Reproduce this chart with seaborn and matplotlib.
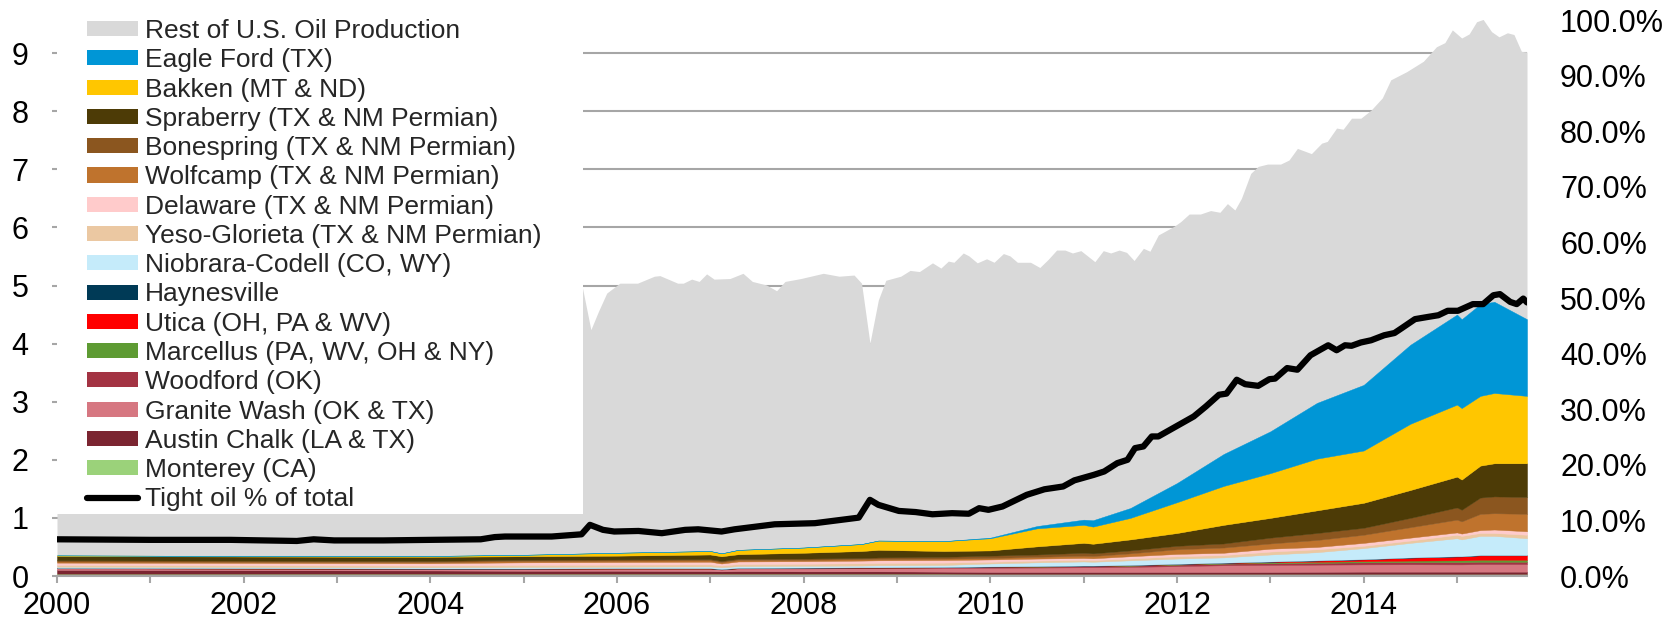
import numpy as np
import matplotlib
matplotlib.use("Agg")
import matplotlib.pyplot as plt
from matplotlib.patches import Patch, Rectangle
from matplotlib.lines import Line2D
from matplotlib.ticker import FuncFormatter, MultipleLocator
import seaborn as sns

# ---------------- data (million barrels per day) ----------------
total_dates = [2000.0, 2002.0, 2004.0, 2005.0, 2005.62, 2005.72, 2005.80, 2005.89, 2006.03, 2006.22,
               2006.40, 2006.46, 2006.65, 2006.71, 2006.80, 2006.88, 2006.96, 2007.04, 2007.21, 2007.35,
               2007.45, 2007.60, 2007.71, 2007.80, 2007.97, 2008.21, 2008.38, 2008.54, 2008.62, 2008.71,
               2008.80, 2008.88, 2009.04, 2009.14, 2009.24, 2009.38, 2009.47, 2009.55, 2009.61, 2009.71,
               2009.77, 2009.86, 2009.96, 2010.04, 2010.14, 2010.21, 2010.29, 2010.43, 2010.53, 2010.62,
               2010.71, 2010.80, 2010.88, 2010.97, 2011.12, 2011.21, 2011.29, 2011.38, 2011.46, 2011.54,
               2011.64, 2011.71, 2011.80, 2011.97, 2012.04, 2012.13, 2012.25, 2012.36, 2012.46, 2012.54,
               2012.62, 2012.69, 2012.79, 2012.87, 2012.97, 2013.11, 2013.20, 2013.29, 2013.44, 2013.55,
               2013.61, 2013.71, 2013.78, 2013.87, 2013.97, 2014.08, 2014.20, 2014.29, 2014.46, 2014.64,
               2014.78, 2014.87, 2014.95, 2015.05, 2015.13, 2015.21, 2015.28, 2015.37, 2015.45, 2015.54,
               2015.61, 2015.69, 2015.75]
total_production = [5.45, 5.40, 5.25, 5.15, 5.04, 4.24, 4.55, 4.87, 5.04, 5.04,
                    5.16, 5.17, 5.04, 5.04, 5.11, 5.07, 5.20, 5.11, 5.12, 5.21,
                    5.07, 5.01, 4.91, 5.07, 5.12, 5.21, 5.16, 5.18, 5.04, 4.01,
                    4.75, 5.09, 5.16, 5.26, 5.24, 5.39, 5.30, 5.42, 5.40, 5.56,
                    5.51, 5.39, 5.46, 5.40, 5.55, 5.51, 5.40, 5.40, 5.31, 5.45,
                    5.61, 5.61, 5.56, 5.60, 5.41, 5.60, 5.56, 5.61, 5.57, 5.43,
                    5.64, 5.59, 5.87, 6.02, 6.10, 6.23, 6.23, 6.29, 6.26, 6.41,
                    6.30, 6.50, 6.93, 7.05, 7.09, 7.09, 7.16, 7.36, 7.27, 7.45,
                    7.48, 7.71, 7.69, 7.88, 7.88, 8.02, 8.23, 8.54, 8.68, 8.86,
                    9.11, 9.18, 9.40, 9.26, 9.33, 9.54, 9.58, 9.37, 9.28, 9.35,
                    9.32, 9.03, 9.02]

pct_dates = [2000.0, 2001.0, 2001.86, 2002.57, 2002.75, 2002.97, 2003.5, 2004.0, 2004.54, 2004.69,
             2004.8, 2005.3, 2005.62, 2005.71, 2005.85, 2005.97, 2006.23, 2006.48, 2006.73, 2006.87,
             2007.12, 2007.26, 2007.69, 2008.12, 2008.59, 2008.71, 2008.80, 2009.02, 2009.20, 2009.38,
             2009.59, 2009.77, 2009.88, 2009.98, 2010.13, 2010.39, 2010.58, 2010.78, 2010.90, 2011.11,
             2011.22, 2011.36, 2011.47, 2011.55, 2011.64, 2011.73, 2011.80, 2011.99, 2012.18, 2012.31,
             2012.45, 2012.53, 2012.64, 2012.73, 2012.87, 2012.99, 2013.05, 2013.18, 2013.29, 2013.43,
             2013.62, 2013.71, 2013.80, 2013.87, 2013.97, 2014.08, 2014.22, 2014.33, 2014.41, 2014.55,
             2014.69, 2014.80, 2014.90, 2015.01, 2015.17, 2015.28, 2015.39, 2015.46, 2015.57, 2015.64,
             2015.71, 2015.75]
tight_oil_share = [0.066, 0.065, 0.065, 0.063, 0.066, 0.064, 0.064, 0.065, 0.066, 0.070,
                   0.071, 0.071, 0.075, 0.092, 0.083, 0.080, 0.081, 0.077, 0.083, 0.084,
                   0.080, 0.084, 0.093, 0.095, 0.105, 0.137, 0.128, 0.117, 0.115, 0.111,
                   0.113, 0.112, 0.122, 0.119, 0.125, 0.146, 0.156, 0.161, 0.172, 0.182,
                   0.188, 0.203, 0.209, 0.230, 0.233, 0.251, 0.251, 0.269, 0.287, 0.305,
                   0.326, 0.328, 0.353, 0.345, 0.342, 0.354, 0.355, 0.374, 0.371, 0.397,
                   0.415, 0.406, 0.415, 0.414, 0.420, 0.424, 0.433, 0.437, 0.446, 0.462,
                   0.466, 0.469, 0.477, 0.477, 0.489, 0.489, 0.505, 0.507, 0.493, 0.489,
                   0.499, 0.492]

tight_dates = [2000.0, 2002.0, 2004.0, 2005.0, 2006.0, 2007.0, 2007.12, 2007.3, 2008.0, 2008.62,
               2008.8, 2009.5, 2010.0, 2010.5, 2011.0, 2011.1, 2011.5, 2012.0, 2012.5, 2013.0,
               2013.5, 2014.0, 2014.5, 2015.0, 2015.05, 2015.25, 2015.4, 2015.75]
monterey = [0.04, 0.04, 0.04, 0.04, 0.04, 0.04, 0.04, 0.04, 0.04, 0.04,
            0.04, 0.04, 0.035, 0.035, 0.035, 0.035, 0.035, 0.035, 0.035, 0.035,
            0.035, 0.035, 0.035, 0.035, 0.035, 0.035, 0.035, 0.035]
austin_chalk = [0.065, 0.06, 0.055, 0.05, 0.05, 0.045, 0.04, 0.045, 0.04, 0.04,
                0.04, 0.035, 0.035, 0.035, 0.035, 0.035, 0.035, 0.035, 0.035, 0.035,
                0.037, 0.04, 0.04, 0.04, 0.04, 0.04, 0.04, 0.04]
granite_wash = [0.025, 0.025, 0.025, 0.03, 0.035, 0.04, 0.03, 0.045, 0.05, 0.055,
                0.055, 0.065, 0.072, 0.075, 0.08, 0.08, 0.087, 0.10, 0.115, 0.12,
                0.123, 0.125, 0.127, 0.125, 0.125, 0.13, 0.13, 0.13]
woodford = [0.005, 0.005, 0.005, 0.005, 0.005, 0.005, 0.005, 0.005, 0.01, 0.01,
            0.01, 0.01, 0.015, 0.015, 0.02, 0.02, 0.02, 0.025, 0.028, 0.03,
            0.032, 0.035, 0.038, 0.04, 0.04, 0.04, 0.04, 0.04]
marcellus = [0, 0, 0, 0, 0, 0, 0, 0, 0, 0,
             0, 0, 0.003, 0.005, 0.005, 0.005, 0.008, 0.01, 0.012, 0.015,
             0.018, 0.02, 0.025, 0.03, 0.03, 0.035, 0.035, 0.035]
utica = [0, 0, 0, 0, 0, 0, 0, 0, 0, 0,
         0, 0, 0, 0, 0, 0, 0, 0, 0, 0.01,
         0.02, 0.03, 0.05, 0.065, 0.065, 0.075, 0.075, 0.075]
haynesville = [0.005, 0.005, 0.005, 0.005, 0.005, 0.005, 0.005, 0.005, 0.005, 0.005,
               0.005, 0.005, 0.005, 0.005, 0.005, 0.005, 0.005, 0.005, 0.005, 0.005,
               0.005, 0.005, 0.005, 0.005, 0.005, 0.005, 0.005, 0.005]
niobrara = [0.02, 0.02, 0.02, 0.025, 0.025, 0.03, 0.03, 0.03, 0.03, 0.03,
            0.035, 0.035, 0.05, 0.065, 0.07, 0.065, 0.08, 0.09, 0.09, 0.12,
            0.14, 0.19, 0.25, 0.31, 0.29, 0.33, 0.33, 0.29]
yeso_glorieta = [0.03, 0.03, 0.03, 0.035, 0.035, 0.035, 0.03, 0.035, 0.035, 0.04,
                 0.04, 0.04, 0.03, 0.03, 0.03, 0.03, 0.03, 0.04, 0.04, 0.05,
                 0.05, 0.04, 0.04, 0.06, 0.06, 0.05, 0.05, 0.06]
delaware = [0.04, 0.04, 0.04, 0.045, 0.045, 0.045, 0.035, 0.045, 0.045, 0.045,
            0.045, 0.045, 0.04, 0.035, 0.03, 0.03, 0.04, 0.04, 0.04, 0.05,
            0.04, 0.05, 0.05, 0.04, 0.04, 0.05, 0.06, 0.06]
wolfcamp = [0.02, 0.02, 0.02, 0.025, 0.025, 0.025, 0.025, 0.025, 0.025, 0.025,
            0.025, 0.025, 0.025, 0.03, 0.04, 0.04, 0.05, 0.08, 0.09, 0.09,
            0.12, 0.14, 0.18, 0.22, 0.21, 0.28, 0.28, 0.30]
bonespring = [0.02, 0.02, 0.02, 0.02, 0.02, 0.02, 0.02, 0.02, 0.02, 0.02,
              0.025, 0.03, 0.04, 0.04, 0.05, 0.045, 0.05, 0.06, 0.07, 0.10,
              0.12, 0.12, 0.16, 0.21, 0.20, 0.28, 0.29, 0.29]
spraberry = [0.075, 0.07, 0.07, 0.06, 0.065, 0.08, 0.08, 0.08, 0.10, 0.12,
             0.13, 0.10, 0.09, 0.14, 0.17, 0.165, 0.19, 0.22, 0.32, 0.34,
             0.39, 0.43, 0.48, 0.53, 0.52, 0.55, 0.57, 0.58]
bakken = [0.01, 0.01, 0.015, 0.025, 0.05, 0.06, 0.05, 0.075, 0.09, 0.12,
          0.16, 0.17, 0.21, 0.31, 0.31, 0.295, 0.37, 0.53, 0.67, 0.77,
          0.89, 0.90, 1.14, 1.24, 1.23, 1.20, 1.21, 1.16]
eagle_ford = [0, 0, 0, 0, 0, 0, 0, 0, 0, 0,
              0, 0, 0.01, 0.04, 0.09, 0.11, 0.17, 0.33, 0.55, 0.72,
              0.96, 1.13, 1.36, 1.55, 1.53, 1.58, 1.57, 1.32]

# bottom-to-top stacking order
play_names = ["Monterey (CA)", "Austin Chalk (LA & TX)", "Granite Wash (OK & TX)", "Woodford (OK)",
              "Marcellus (PA, WV, OH & NY)", "Utica (OH, PA & WV)", "Haynesville",
              "Niobrara-Codell (CO, WY)", "Yeso-Glorieta (TX & NM Permian)", "Delaware (TX & NM Permian)",
              "Wolfcamp (TX & NM Permian)", "Bonespring (TX & NM Permian)", "Spraberry (TX & NM Permian)",
              "Bakken (MT & ND)", "Eagle Ford (TX)"]
play_values = [monterey, austin_chalk, granite_wash, woodford, marcellus, utica, haynesville,
               niobrara, yeso_glorieta, delaware, wolfcamp, bonespring, spraberry, bakken, eagle_ford]
play_colors = ["#9BD27A", "#7B2531", "#D67781", "#A33343", "#5E9B33", "#FF0000", "#003A56",
               "#C5EBFA", "#EBC8A2", "#FFCBCB", "#BF732D", "#8B561F", "#4D3B06",
               "#FFC600", "#0096D6"]
rest_label = "Rest of U.S. Oil Production"
rest_color = "#D9D9D9"
share_label = "Tight oil % of total"

year_ticks = [2000, 2002, 2004, 2006, 2008, 2010, 2012, 2014]
left_ticks = [0, 1, 2, 3, 4, 5, 6, 7, 8, 9]
right_ticks = [0.0, 0.1, 0.2, 0.3, 0.4, 0.5, 0.6, 0.7, 0.8, 0.9, 1.0]

# ---------------- style / layout ----------------
sns.set_theme(style="white")
plt.rcParams["font.family"] = ["Liberation Sans", "DejaVu Sans"]

W, H = 1679, 626
PL, PR, PB, PT = 57, 1527, 576, 20
fig = plt.figure(figsize=(W / 100, H / 100), dpi=100)
ax = fig.add_axes([PL / W, (H - PB) / H, (PR - PL) / W, (PB - PT) / H])

axis_grey = "#A6A6A6"

ax.fill_between(total_dates, 0, total_production, color=rest_color, lw=0, zorder=1)
polys = ax.stackplot(tight_dates, *play_values, colors=play_colors, lw=0, zorder=2)
for p, c in zip(polys, play_colors):
    p.set_edgecolor(c)
    p.set_linewidth(0.3)

# white legend panel (covers the upper-left corner of the plot)
legend_panel_right = 2005.64
legend_panel_bottom = 1.07
ax.add_patch(Rectangle((1990, legend_panel_bottom), legend_panel_right - 1990, 50,
                       facecolor="white", edgecolor="none", zorder=3))

ax.set_xlim(2000, 2015.75)
ax.set_ylim(0, 9.57)
ax.set_axisbelow(True)
ax.yaxis.grid(True, color=axis_grey, lw=1.5)
ax.xaxis.grid(False)
ax.set_yticks(left_ticks)
ax.set_yticklabels([str(t) for t in left_ticks])
ax.set_xticks(year_ticks)
ax.set_xticklabels([str(t) for t in year_ticks])
ax.xaxis.set_minor_locator(MultipleLocator(1))
ax.tick_params(axis="x", which="both", bottom=True, direction="out", length=5, width=1.5,
               color=axis_grey, labelsize=22, pad=6, labelcolor="black")
ax.tick_params(axis="y", left=True, direction="out", length=3.6, width=1.5, color=axis_grey,
               labelsize=22, pad=17, labelcolor="black")
for s in ["top", "right", "left"]:
    ax.spines[s].set_visible(False)
ax.spines["bottom"].set_color(axis_grey)
ax.spines["bottom"].set_linewidth(1.5)
ax.set_xlabel("")
ax.set_ylabel("")

ax2 = ax.twinx()
sns.lineplot(x=pct_dates, y=tight_oil_share, ax=ax2, color="black", lw=4.5,
             legend=False, solid_capstyle="round", solid_joinstyle="round")
ax2.set_ylim(0, 1.0)
ax2.set_yticks(right_ticks)
ax2.yaxis.set_major_formatter(FuncFormatter(lambda v, _: f"{v * 100:.1f}%"))
ax2.tick_params(axis="y", right=True, length=0, labelsize=22, pad=23.8, labelcolor="black")
for s in ax2.spines.values():
    s.set_visible(False)
ax2.set_ylabel("")
ax2.set_xlim(2000, 2015.75)

# legend (top-to-bottom order as in the source)
handles = [Patch(facecolor=rest_color, edgecolor="none", label=rest_label)]
for name, col in zip(play_names[::-1], play_colors[::-1]):
    handles.append(Patch(facecolor=col, edgecolor="none", label=name))
handles.append(Line2D([0], [0], color="black", lw=4.5, solid_capstyle="round", label=share_label))
leg = ax.legend(handles=handles, loc="upper left", bbox_to_anchor=(87 / W, 1 - 19 / H),
                bbox_transform=fig.transFigure, frameon=False, fontsize=19,
                labelspacing=0.2, handlelength=1.93, handleheight=0.5,
                handletextpad=0.25, borderpad=0, borderaxespad=0)
leg.set_zorder(5)

fig.savefig("out.png", dpi=100)
